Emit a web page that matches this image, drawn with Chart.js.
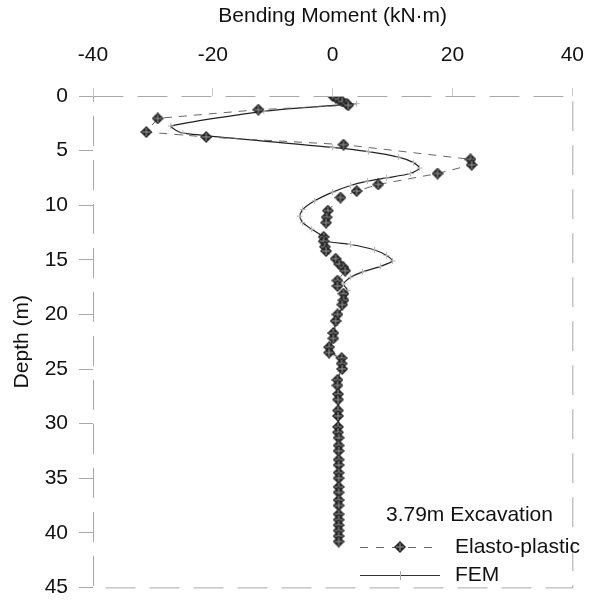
<!DOCTYPE html>
<html lang="en">
<head>
  <meta charset="UTF-8" />
  <title>Bending Moment - 3.79m Excavation</title>
  <style>
    body { margin: 0; background: #fff; }
    canvas { display: block; }
  </style>
</head>
<body>
  <canvas id="momentChart" width="604" height="611"></canvas>
  <script src="https://cdn.jsdelivr.net/npm/chart.js"></script>
  <script>
    // values: depth (m) and bending moment (kN·m)
    const epDepth = [0, 0.15, 0.3, 0.5, 0.7, 0.85, 1.25, 2.05, 3.3, 3.75, 4.45, 5.8, 6.3, 7.1, 8.1, 8.7, 9.3,
      10.5, 11.1, 11.6, 12.9, 13.3, 13.8, 14.2, 14.9, 15.4, 15.7, 16.0, 16.9, 17.4, 18.1, 18.7, 19.1,
      20.0, 20.6, 21.7, 22.2, 23.0, 23.5, 24.0, 24.5, 25.0,
      26.0, 26.5, 27.3, 27.8, 28.8, 29.3, 30.3, 30.8, 31.3, 32.0, 32.5, 33.3, 33.8, 34.5, 35.0,
      35.8, 36.3, 37.0, 37.5, 38.3, 38.8, 39.3, 39.8, 40.3, 40.8];
    const epMoment = [0, 0.5, 1.0, 1.6, 2.3, 2.6, -12.4, -29.2, -31.1, -21.1, 1.8, 23.0, 23.2, 17.5, 7.6, 4.0, 1.3,
      -0.8, -1.0, -1.1, -1.5, -1.5, -1.3, -1.1, 0.5, 1.1, 1.8, 2.1, 0.8, 0.8, 1.8, 1.8, 1.6,
      0.8, 0.5, 0.1, 0.1, -0.6, -0.6, 1.5, 1.5, 1.6,
      0.8, 0.8, 0.9, 0.9, 0.9, 0.9, 0.9, 0.9, 1.0, 1.0, 1.0, 1.0, 1.0, 1.0, 1.0,
      1.0, 1.0, 1.0, 1.0, 1.0, 1.0, 1.0, 1.0, 1.0, 1.0];

    const femDepth = [0.7, 1.4, 2.75, 3.4, 4.7, 5.1, 5.6, 6.1, 6.6, 7.1, 7.5, 7.8, 8.2, 8.8, 9.6, 10.4, 11.0,
      11.6, 12.2, 12.8, 13.3, 13.6, 14.1, 14.6, 15.1, 15.6, 16.1, 16.6, 17.2, 17.8, 18.5, 19.2,
      20.0, 21.0, 22.0, 23.0, 23.8, 24.5, 25.2, 26.0, 41.0];
    const femMoment = [4.0, -11.5, -27.0, -25.0, 0, 6, 11, 13.5, 14.5, 13, 9, 5.8, 3, 0, -3, -5, -5.5,
      -5, -3.5, -1.8, -1, 3, 7, 9, 10, 8, 5, 3, 1.8, 2.5, 2.2, 1.8,
      1, 0.5, 0, -0.3, 0.5, 1.5, 1.2, 1, 1];

    const xTicks = [-40, -20, 0, 20, 40];
    const yTicks = [0, 5, 10, 15, 20, 25, 30, 35, 40, 45];

    const FONT = '"Liberation Sans", Arial, sans-serif';

    // diamond marker with a light cross inside
    function diamondMarker() {
      const c = document.createElement('canvas');
      c.width = 12; c.height = 12;
      const g = c.getContext('2d');
      g.fillStyle = '#262626';
      g.beginPath();
      g.moveTo(6, 0); g.lineTo(12, 6); g.lineTo(6, 12); g.lineTo(0, 6);
      g.closePath(); g.fill();
      g.strokeStyle = '#9a9a9a';
      g.lineWidth = 1;
      g.beginPath();
      g.moveTo(6, 2); g.lineTo(6, 10);
      g.moveTo(2, 6); g.lineTo(10, 6);
      g.stroke();
      return c;
    }
    const marker = diamondMarker();

    const epPoints = epDepth.map((d, i) => ({ x: epMoment[i], y: d }));
    const femPoints = femDepth.map((d, i) => ({ x: femMoment[i], y: d }));

    // frame round the plot area + legend box in the lower right
    const framePlugin = {
      id: 'frame',
      afterDraw(chart) {
        const { ctx, chartArea: a } = chart;
        ctx.save();
        ctx.strokeStyle = '#a8a8a8';
        ctx.lineWidth = 1;
        ctx.setLineDash([30, 14]);
        ctx.strokeRect(a.left + 0.5, a.top + 0.5, a.right - a.left, a.bottom - a.top);
        ctx.setLineDash([]);

        ctx.fillStyle = '#111';
        ctx.font = '21px ' + FONT;
        ctx.textBaseline = 'middle';
        ctx.fillText('3.79m Excavation', 386, 515);
        ctx.fillText('Elasto-plastic', 455, 547);
        ctx.fillText('FEM', 455, 575);

        // Elasto-plastic sample
        ctx.strokeStyle = '#666';
        ctx.setLineDash([8, 8]);
        ctx.beginPath();
        ctx.moveTo(360, 547.5); ctx.lineTo(436, 547.5);
        ctx.stroke();
        ctx.setLineDash([]);
        ctx.drawImage(marker, 400 - 6, 547 - 6);

        // FEM sample
        ctx.strokeStyle = '#333';
        ctx.beginPath();
        ctx.moveTo(360, 575.5); ctx.lineTo(440, 575.5);
        ctx.stroke();
        ctx.strokeStyle = '#aaa';
        ctx.beginPath();
        ctx.moveTo(400.5, 571); ctx.lineTo(400.5, 580);
        ctx.stroke();
        ctx.restore();
      }
    };

    new Chart(document.getElementById('momentChart'), {
      type: 'scatter',
      data: {
        datasets: [
          {
            label: 'Elasto-plastic',
            data: epPoints,
            showLine: true,
            borderColor: '#666',
            borderWidth: 1,
            borderDash: [8, 7],
            pointStyle: marker,
            pointRadius: 6,
            order: 0
          },
          {
            label: 'FEM',
            data: femPoints,
            showLine: true,
            borderColor: '#222',
            borderWidth: 1.2,
            tension: 0.2,
            pointStyle: 'cross',
            pointRadius: 3,
            pointBorderColor: '#b5b5b5',
            pointBorderWidth: 1,
            order: 1
          }
        ]
      },
      options: {
        responsive: false,
        animation: false,
        devicePixelRatio: 1,
        layout: { padding: { left: 4, top: 0, right: 15, bottom: 9 } },
        plugins: {
          legend: { display: false },
          tooltip: { enabled: false }
        },
        scales: {
          x: {
            type: 'linear',
            position: 'top',
            min: -40,
            max: 40,
            afterBuildTicks: s => { s.ticks = xTicks.map(v => ({ value: v })); },
            afterFit: s => { s.height = 96; },
            border: { display: false },
            grid: { drawOnChartArea: false, tickLength: 8, color: '#c8c8c8' },
            ticks: { color: '#111', font: { family: FONT, size: 21 }, padding: 20 },
            title: {
              display: true,
              text: 'Bending Moment (kN·m)',
              color: '#111',
              font: { family: FONT, size: 21 },
              padding: { top: 4, bottom: 0 }
            }
          },
          y: {
            type: 'linear',
            reverse: true,
            min: 0,
            max: 45,
            afterBuildTicks: s => { s.ticks = yTicks.map(v => ({ value: v })); },
            afterFit: s => { s.width = 89; },
            border: { display: false },
            grid: { drawOnChartArea: false, tickLength: 14, color: '#aaa' },
            ticks: { color: '#111', font: { family: FONT, size: 21 }, padding: 11 },
            title: {
              display: true,
              text: 'Depth (m)',
              color: '#111',
              font: { family: FONT, size: 21 },
              padding: { top: 6, bottom: 0 }
            }
          }
        }
      },
      plugins: [framePlugin]
    });
  </script>
</body>
</html>
